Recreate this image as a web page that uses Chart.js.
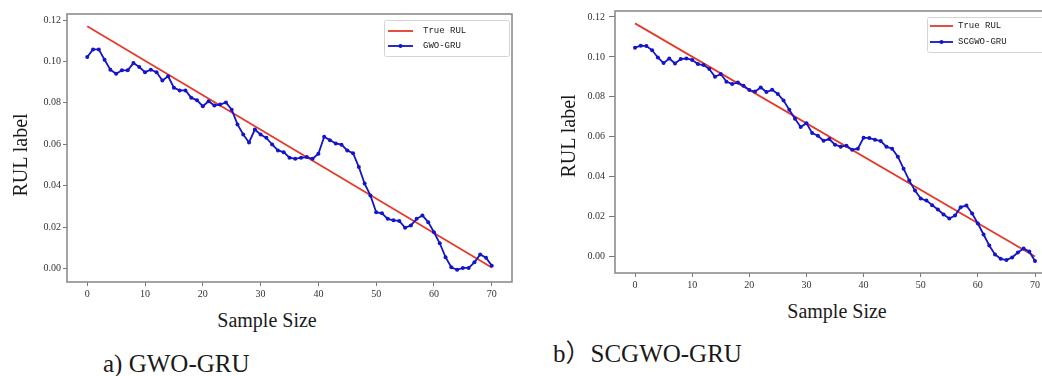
<!DOCTYPE html>
<html>
<head>
<meta charset="utf-8">
<script src="https://cdn.jsdelivr.net/npm/chart.js@4.4.0/dist/chart.umd.min.js"></script>
<style>
  html, body { margin: 0; padding: 0; background: #fff; width: 1042px; height: 376px; overflow: hidden; }
  .wrap { position: absolute; }
  .txt { position: absolute; font-family: 'Liberation Serif', 'Times New Roman', 'Noto Sans CJK SC', serif; color: #1a1a1a; white-space: nowrap; }
</style>
</head>
<body>
<div class="wrap" style="left:0;top:0;width:540px;height:300px"><canvas id="chartA"></canvas></div>
<div class="wrap" style="left:560px;top:0;width:510px;height:300px"><canvas id="chartB"></canvas></div>

<div class="txt" style="left:-80px;top:145px;width:200px;text-align:center;font-size:20px;line-height:20px;transform:rotate(-90deg)">RUL label</div>
<div class="txt" style="left:468px;top:126px;width:200px;text-align:center;font-size:20px;line-height:20px;transform:rotate(-90deg)">RUL label</div>
<div class="txt" style="left:167px;top:310px;width:200px;text-align:center;font-size:20px;line-height:20px">Sample Size</div>
<div class="txt" style="left:737px;top:301px;width:200px;text-align:center;font-size:20px;line-height:20px">Sample Size</div>
<div class="txt" style="left:103px;top:351px;font-size:25px;line-height:25px">a) GWO-GRU</div>
<div class="txt" style="left:553px;top:341px;font-size:25px;line-height:25px">b）SCGWO-GRU</div>

<script>
// sample index 0..70
const sampleSize = Array.from({ length: 71 }, (_, i) => i);

const trueX = [0, 70];
const trueRulA = [0.117, 0.0005];
const trueRulB = [0.1168, 0.0];

const gwoGru = [
  0.1021, 0.1058, 0.1058, 0.1008, 0.0960, 0.0940, 0.0957, 0.0957, 0.0992, 0.0973,
  0.0948, 0.0960, 0.0948, 0.0908, 0.0928, 0.0873, 0.0860, 0.0860, 0.0825, 0.0812,
  0.0784, 0.0808, 0.0787, 0.0792, 0.0802, 0.0767, 0.0696, 0.0647, 0.0609, 0.0671,
  0.0647, 0.0631, 0.0599, 0.0570, 0.0562, 0.0535, 0.0530, 0.0535, 0.0538, 0.0530,
  0.0554, 0.0636, 0.0620, 0.0604, 0.0598, 0.0570, 0.0557, 0.0490, 0.0410, 0.0353,
  0.0272, 0.0267, 0.0240, 0.0233, 0.0230, 0.0197, 0.0208, 0.0240, 0.0256, 0.0224,
  0.0175, 0.0122, 0.0055, 0.0006, -0.0006, 0.0003, 0.0003, 0.0030, 0.0068, 0.0052,
  0.0014
];

const scgwoGru = [
  0.1046, 0.1056, 0.1054, 0.1033, 0.0997, 0.0969, 0.0992, 0.0967, 0.0989, 0.0992,
  0.0985, 0.0964, 0.0959, 0.0939, 0.0900, 0.0914, 0.0876, 0.0864, 0.0872, 0.0856,
  0.0834, 0.0826, 0.0847, 0.0824, 0.0835, 0.0814, 0.0781, 0.0735, 0.0690, 0.0649,
  0.0668, 0.0618, 0.0605, 0.0580, 0.0588, 0.0560, 0.0550, 0.0555, 0.0535, 0.0540,
  0.0595, 0.0593, 0.0585, 0.0578, 0.0550, 0.0540, 0.0500, 0.0440, 0.0380, 0.0330,
  0.0290, 0.0280, 0.0257, 0.0235, 0.0210, 0.0190, 0.0205, 0.0247, 0.0255, 0.0215,
  0.0165, 0.0110, 0.0055, 0.0010, -0.0012, -0.0018, -0.0005, 0.0020, 0.0040, 0.0025,
  -0.0023
];

const xTicks = [0, 10, 20, 30, 40, 50, 60, 70];
const yTicks = [0.00, 0.02, 0.04, 0.06, 0.08, 0.10, 0.12];

const RED = '#e33b2b';
const BLUE = '#1414c8';

function toXY(xs, ys) {
  return xs.map((x, i) => ({ x: x, y: ys[i] }));
}

// box around the plot area
const frame = {
  id: 'frame',
  afterDatasetsDraw(chart) {
    const { ctx, chartArea: a } = chart;
    ctx.save();
    ctx.strokeStyle = '#8c8c8c';
    ctx.lineWidth = 1.6;
    ctx.strokeRect(a.left, a.top, a.right - a.left, a.bottom - a.top);
    ctx.restore();
  }
};

// matplotlib-like legend in the upper right
const boxLegend = {
  id: 'boxLegend',
  afterDraw(chart, args, o) {
    const { ctx, chartArea: a } = chart;
    const x0 = a.right - o.right - o.width;
    const y0 = a.top + o.top;
    ctx.save();
    ctx.fillStyle = 'rgba(255,255,255,0.9)';
    ctx.strokeStyle = '#d4d4d4';
    ctx.lineWidth = 1;
    ctx.beginPath();
    ctx.roundRect(x0 + 0.5, y0 + 0.5, o.width, o.height, 2);
    ctx.fill();
    ctx.stroke();
    chart.data.datasets.forEach((ds, i) => {
      const y = y0 + o.rows[i];
      ctx.strokeStyle = ds.borderColor;
      ctx.lineWidth = 1.8;
      ctx.beginPath();
      ctx.moveTo(x0 + o.lineX, y);
      ctx.lineTo(x0 + o.lineX + o.lineW, y);
      ctx.stroke();
      if (ds.pointRadius) {
        ctx.fillStyle = ds.borderColor;
        ctx.beginPath();
        ctx.arc(x0 + o.lineX + o.lineW / 2, y, 2, 0, Math.PI * 2);
        ctx.fill();
      }
      ctx.fillStyle = '#222';
      ctx.font = '9px "Liberation Mono", monospace';
      ctx.textBaseline = 'middle';
      ctx.fillText(ds.label, x0 + o.textX, y);
    });
    ctx.restore();
  }
};

function makeChart(id, trueY, modelY, modelName, cfg) {
  new Chart(document.getElementById(id), {
    type: 'line',
    data: {
      datasets: [
        {
          label: 'True RUL',
          data: toXY(trueX, trueY),
          borderColor: RED,
          borderWidth: 1.8,
          pointRadius: 0,
          order: 1
        },
        {
          label: modelName,
          data: toXY(sampleSize, modelY),
          borderColor: BLUE,
          backgroundColor: BLUE,
          borderWidth: 1.8,
          pointRadius: 2,
          pointBorderWidth: 0,
          pointBackgroundColor: BLUE,
          order: 0
        }
      ]
    },
    options: {
      responsive: true,
      maintainAspectRatio: false,
      animation: false,
      layout: { padding: { left: 0, top: cfg.top, right: cfg.right, bottom: 0 } },
      plugins: {
        legend: { display: false },
        tooltip: { enabled: false },
        boxLegend: cfg.legend
      },
      scales: {
        x: {
          type: 'linear',
          min: -3.5,
          max: 73.5,
          afterBuildTicks: s => { s.ticks = xTicks.map(v => ({ value: v })); },
          afterFit: s => { s.height = cfg.xHeight; },
          border: { display: false },
          grid: { display: true, drawOnChartArea: false, tickLength: cfg.xTick, color: '#777', lineWidth: 1 },
          ticks: { font: { family: 'Liberation Serif', size: 10 }, color: '#333', padding: 2, maxRotation: 0 }
        },
        y: {
          min: cfg.yMin,
          max: cfg.yMax,
          afterBuildTicks: s => { s.ticks = yTicks.map(v => ({ value: v })); },
          afterFit: s => { s.width = cfg.yWidth; },
          border: { display: false },
          grid: { display: true, drawOnChartArea: false, tickLength: cfg.yTick, color: '#777', lineWidth: 1 },
          ticks: {
            font: { family: 'Liberation Serif', size: 10 },
            color: '#333',
            padding: cfg.yPad,
            callback: v => v.toFixed(2)
          }
        }
      }
    },
    plugins: [frame, boxLegend]
  });
}

makeChart('chartA', trueRulA, gwoGru, 'GWO-GRU', {
  top: 14, right: 28, xHeight: 18, yWidth: 67,
  yMin: -0.0065, yMax: 0.1229, xTick: 4, yTick: 4, yPad: 2,
  legend: { right: 3, top: 6, width: 125, height: 36, rows: [11, 26], lineX: 4, lineW: 25, textX: 39 }
});

makeChart('chartB', trueRulB, scgwoGru, 'SCGWO-GRU', {
  top: 11, right: 15, xHeight: 27, yWidth: 55,
  yMin: -0.0083, yMax: 0.123, xTick: 4, yTick: 6, yPad: 4,
  legend: { right: 3, top: 6, width: 125, height: 35, rows: [9, 25], lineX: 3, lineW: 23, textX: 31 }
});
</script>
</body>
</html>
